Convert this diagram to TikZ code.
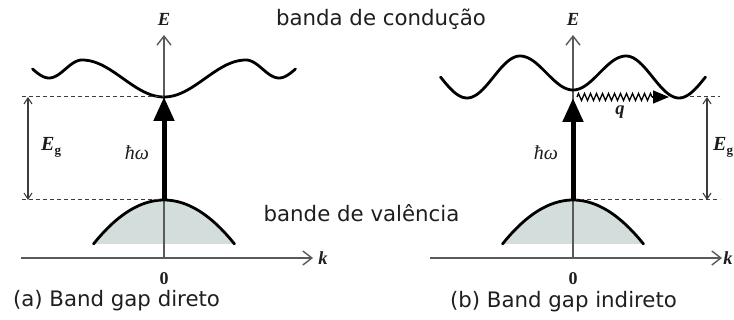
\documentclass[tikz,border=0pt]{standalone}
\usepackage{fontspec}
\setmainfont{DejaVu Sans}
\newfontfamily\lblfont{Liberation Serif}
\usetikzlibrary{arrows.meta,decorations.pathmorphing}
\definecolor{axisgray}{HTML}{5A5A5A}
\definecolor{dashgray}{HTML}{3C3C3C}
\definecolor{vfill}{HTML}{D3DDDC}
\definecolor{txtcol}{HTML}{1E1E1E}
\tikzset{
  axisline/.style={draw=axisgray, line width=1.4pt, -{Straight Barb[length=9pt,width=14pt]}},
  band/.style={line width=2.8pt, draw=black, line cap=round},
  gapdash/.style={draw=dashgray, line width=1pt, dash pattern=on 4pt off 3pt},
  gaparrow/.style={draw=dashgray, line width=1.1pt, {Straight Barb[length=6pt,width=8pt]}-{Straight Barb[length=6pt,width=8pt]}},
  photon/.style={line width=5pt, draw=black, -{Triangle[width=20pt,length=24pt]}},
  phonon/.style={line width=1.3pt, draw=black, decorate, decoration={zigzag, segment length=6pt, amplitude=3.5pt}},
  phononhead/.style={line width=1.3pt, draw=black, -{Triangle[length=16pt,width=13pt]}},
  lbl/.style={font=\lblfont\bfseries\itshape\fontsize{18.5}{18.5}\selectfont, text=txtcol, inner sep=0pt},
  lblup/.style={font=\lblfont\bfseries\fontsize{18}{18}\selectfont, text=txtcol, inner sep=0pt},
  eglbl/.style={font=\lblfont\bfseries\itshape\fontsize{20}{20}\selectfont, text=txtcol, inner sep=0pt, anchor=base west},
  hwlbl/.style={font=\lblfont\itshape\fontsize{20}{20}\selectfont, text=txtcol, inner sep=0pt},
  txt/.style={font=\fontsize{21.3}{24}\selectfont, text=txtcol, inner sep=0pt, anchor=base},
}
\newcommand{\subg}{\raisebox{-4pt}{\lblfont\bfseries\upshape\fontsize{13}{13}\selectfont g}}
\begin{document}
\begin{tikzpicture}[x=1pt,y=-1pt]
\useasboundingbox (0,0) rectangle (734,320);

% ---------------- panel (a) ----------------
\coordinate (aL) at (21,258);
\coordinate (aR) at (313,258);
\coordinate (aB) at (164,258);
\coordinate (aT) at (164,35);
\coordinate (aV) at (164,200);
\coordinate (aC) at (164,97);
\coordinate (aDl1) at (22,97);
\coordinate (aDl2) at (22,200);
\coordinate (aG1) at (28,97);
\coordinate (aG2) at (28,200);

\fill[vfill] (93.5,244) -- plot[domain=93.5:234.5, samples=50] (\x,{200+44*((\x-164)/70.5)^2}) -- cycle;
\draw[axisline] (aB) -- (aT);
\draw[axisline] (aL) -- (aR);
\draw[band] plot[domain=93.5:234.5, samples=50] (\x,{200+44*((\x-164)/70.5)^2});
\draw[band] plot[domain=32.5:49, samples=12] (\x,{69-9*cos(180*(\x-16)/33)})
  -- plot[domain=49:82, samples=20] (\x,{69+9*cos(180*(\x-49)/33)})
  -- plot[domain=82:164, samples=40] (\x,{78.5-18.5*cos(180*(\x-82)/82)})
  -- plot[domain=164:246, samples=40] (\x,{78.5+18.5*cos(180*(\x-164)/82)})
  -- plot[domain=246:279, samples=20] (\x,{69-9*cos(180*(\x-246)/33)})
  -- plot[domain=279:295.5, samples=12] (\x,{69+9*cos(180*(\x-279)/33)});
\draw[gapdash] (aDl1) -- (aC);
\draw[gapdash] (aDl2) -- (aV);
\draw[gaparrow] (aG1) -- (aG2);
\draw[photon] (aV) -- (aC);

\node[lbl] (aE) at (164,19) {E};
\node[lbl] (ak) at (323,258) {k};
\node[lblup] (a0) at (164,279) {0};
\node[eglbl] (aEg) at (41,151) {E\subg};
\node[hwlbl] (ahw) at (137,153) {ħω};
\node[txt] (acap) at (116.5,307) {(a) Band gap direto};

% ---------------- panel (b) ----------------
\coordinate (bL) at (430,258);
\coordinate (bR) at (722,258);
\coordinate (bB) at (573,258);
\coordinate (bT) at (573,35);
\coordinate (bV) at (573,200);
\coordinate (bC) at (573,98);
\coordinate (bDr1) at (690,97);
\coordinate (bDe1) at (720,97);
\coordinate (bDe2) at (720,200);
\coordinate (bG1) at (707,97);
\coordinate (bG2) at (707,200);
\coordinate (qs) at (577,97);
\coordinate (qm) at (652,97);
\coordinate (qe) at (669,97);

\fill[vfill] (502.5,244) -- plot[domain=502.5:643.5, samples=50] (\x,{200+44*((\x-573)/70.5)^2}) -- cycle;
\draw[axisline] (bB) -- (bT);
\draw[axisline] (bL) -- (bR);
\draw[band] plot[domain=502.5:643.5, samples=50] (\x,{200+44*((\x-573)/70.5)^2});
\draw[band] plot[domain=440.5:467, samples=14] (\x,{77-21*cos(180*(\x-414)/53)})
  -- plot[domain=467:520, samples=28] (\x,{77+21*cos(180*(\x-467)/53)})
  -- plot[domain=520:573, samples=28] (\x,{73-17*cos(180*(\x-520)/53)})
  -- plot[domain=573:626, samples=28] (\x,{73+17*cos(180*(\x-573)/53)})
  -- plot[domain=626:679, samples=28] (\x,{77-21*cos(180*(\x-626)/53)})
  -- plot[domain=679:705.5, samples=14] (\x,{77+21*cos(180*(\x-679)/53)});
\draw[gapdash] (bDr1) -- (bDe1);
\draw[gapdash] (bV) -- (bDe2);
\draw[gaparrow] (bG1) -- (bG2);
\draw[photon] (bV) -- (bC);
\draw[phonon] (qs) -- (qm);
\draw[phononhead] (qm) -- (qe);

\node[lbl] (bE) at (573,19) {E};
\node[lbl] (bk) at (728,258) {k};
\node[lblup] (b0) at (573,279) {0};
\node[eglbl] (bEg) at (713,151) {E\subg};
\node[hwlbl] (bhw) at (546,153) {ħω};
\node[lbl] (bq) at (620,112) {q};
\node[txt] (bcap) at (563.5,308) {(b) Band gap indireto};

% ---------------- band names ----------------
\node[txt] (cb) at (381,26) {banda de condução};
\node[txt] (vb) at (361.5,222) {bande de valência};
\end{tikzpicture}
\end{document}
